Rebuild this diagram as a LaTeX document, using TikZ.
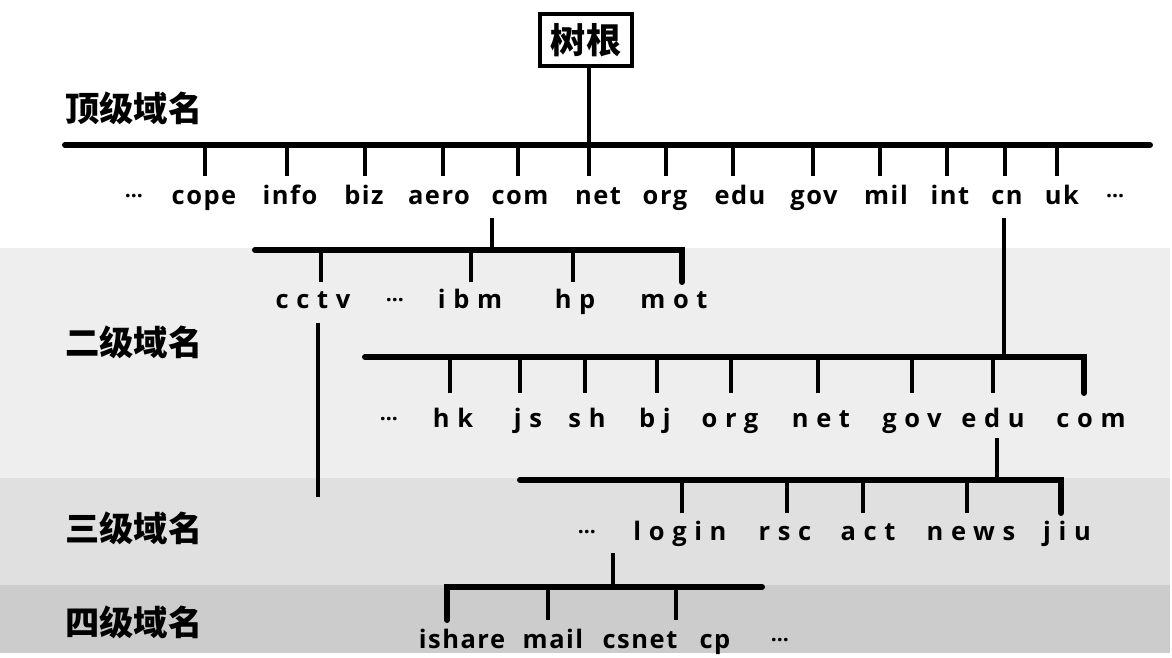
\documentclass[tikz,border=0pt]{standalone}
\usepackage{fontspec}
\setmainfont{Open Sans}
\newfontfamily\cjk{Noto Sans CJK SC}
\newfontfamily\dom{Open Sans}[LetterSpace=6]
\newfontfamily\domwide{Open Sans}[LetterSpace=30]
\definecolor{bandtwo}{HTML}{EEEEEE}
\definecolor{bandthree}{HTML}{E0E0E0}
\definecolor{bandfour}{HTML}{CCCCCC}

\begin{document}
\begin{tikzpicture}[x=0.02cm, y=-0.02cm,
    bar/.style={line width=3.4pt, line cap=round},
    stem/.style={line width=2.8pt},
    lvl/.style={font=\cjk\bfseries\fontsize{19.5}{19.5}\selectfont, anchor=west, inner sep=0pt},
    dn/.style={font=\dom\bfseries\fontsize{14.5}{14.5}\selectfont, anchor=base, inner sep=0pt},
    dnw/.style={font=\domwide\bfseries\fontsize{14.5}{14.5}\selectfont, anchor=base, inner sep=0pt},
    dots/.style={font=\bfseries\fontsize{12}{12}\selectfont, anchor=base, inner sep=0pt, yshift=3.8pt}]
     \useasboundingbox (0,0) rectangle (1172,657);

     % bands
     \fill[bandtwo]   (0,248) rectangle (1170,478);
     \fill[bandthree] (0,478) rectangle (1170,585);
     \fill[bandfour]  (0,585) rectangle (1170,653);

     % level names
     \node[lvl] (l1) at (65,108) {顶级域名};
     \node[lvl] (l2) at (65,342) {二级域名};
     \node[lvl] (l3) at (65,528) {三级域名};
     \node[lvl] (l4) at (65,622) {四级域名};

     % root
     \node[draw=black, line width=2pt, minimum width=1.84cm, minimum height=1.04cm, inner sep=0pt,
           font=\cjk\bfseries\fontsize{20}{20}\selectfont] (root) at (586,40) {树根};

     % top level
     \coordinate (t1l) at (65,145);
     \coordinate (t1r) at (1150,145);
     \draw[bar] (t1l) -- (t1r);
     \draw[stem] (root.south -| 589,0) -- (589,176);
     \foreach \x in {205,287,365,443,518,666,733,813,880,947,1005,1057}
         \draw[stem] (\x,145) -- (\x,176);

     \node[dots] (d1a) at (134,204) {…};
     \node[dn] (cope) at (204,204) {cope};
     \node[dn] (info) at (290,204) {info};
     \node[dn] (biz)  at (364,204) {biz};
     \node[dn] (aero) at (439,204) {aero};
     \node[dn] (com1) at (520,204) {com};
     \node[dn] (net1) at (598,204) {net};
     \node[dn] (org1) at (665,204) {org};
     \node[dn] (edu1) at (740,204) {edu};
     \node[dn] (gov1) at (814,204) {gov};
     \node[dn] (mil)  at (886,204) {mil};
     \node[dn] (int)  at (950,204) {int};
     \node[dn] (cn)   at (1007,204) {cn};
     \node[dn] (uk)   at (1062,204) {uk};
     \node[dots] (d1b) at (1115,204) {…};

     % under com
     \coordinate (comdrop) at (492,218);
     \coordinate (c2l) at (255,250);
     \coordinate (c2r) at (682,250);
     \draw[stem] (comdrop) -- (comdrop |- c2l);
     \draw[bar] (c2l) -- (c2r) -- ++(0,32);
     \foreach \x in {321,471,573}
         \draw[stem] (\x,250) -- (\x,282);

     \node[dnw] (cctv) at (313,308) {cctv};
     \node[dots] (d2a) at (395,308) {…};
     \node[dnw] (ibm)  at (470,308) {ibm};
     \node[dnw] (hp)   at (575,308) {hp};
     \node[dnw] (mot)  at (674,308) {mot};

     \coordinate (cctvdrop) at (318,323);
     \draw[stem] (cctvdrop) -- (318,497);

     % under cn
     \coordinate (cndrop) at (1004,218);
     \coordinate (n2l) at (365,357);
     \coordinate (n2r) at (1084,357);
     \draw[stem] (cndrop) -- (cndrop |- n2l);
     \draw[bar] (n2l) -- (n2r) -- ++(0,36);
     \foreach \x in {450,520,585,657,731,818,912,993}
         \draw[stem] (\x,357) -- (\x,393);

     \node[dots] (d2b) at (389,427) {…};
     \node[dnw] (hk)   at (453,427) {hk};
     \node[dnw] (js)   at (528,427) {js};
     \node[dnw] (sh)   at (587,427) {sh};
     \node[dnw] (bj)   at (655,427) {bj};
     \node[dnw] (org2) at (730,427) {org};
     \node[dnw] (net2) at (821,427) {net};
     \node[dnw] (gov2) at (912,427) {gov};
     \node[dnw] (edu2) at (993,427) {edu};
     \node[dnw] (com2) at (1091,427) {com};

     % under edu
     \coordinate (edudrop) at (997,438);
     \coordinate (e3l) at (520,480);
     \coordinate (e3r) at (1061,480);
     \draw[stem] (edudrop) -- (edudrop |- e3l);
     \draw[bar] (e3l) -- (e3r) -- ++(0,33);
     \foreach \x in {682,787,863,967}
         \draw[stem] (\x,480) -- (\x,513);

     \node[dots] (d3) at (587,540) {…};
     \node[dnw] (login) at (680,540) {login};
     \node[dnw] (rsc)   at (785,540) {rsc};
     \node[dnw] (act)   at (868,540) {act};
     \node[dnw] (news)  at (971,540) {news};
     \node[dnw] (jiu)   at (1067,540) {jiu};

     % fourth level
     \coordinate (fdrop) at (613,553);
     \coordinate (f4l) at (447,587);
     \coordinate (f4r) at (762,587);
     \draw[stem] (fdrop) -- (fdrop |- f4l);
     \draw[bar] (f4r) -- (f4l) -- ++(0,33);
     \foreach \x in {548,676}
         \draw[stem] (\x,587) -- (\x,620);

     \node[dn] (ishare) at (462,648) {ishare};
     \node[dn] (mail)   at (553,648) {mail};
     \node[dn] (csnet)  at (640,648) {csnet};
     \node[dn] (cp)     at (715,648) {cp};
     \node[dots] (d4)   at (780,648) {…};
\end{tikzpicture}
\end{document}
